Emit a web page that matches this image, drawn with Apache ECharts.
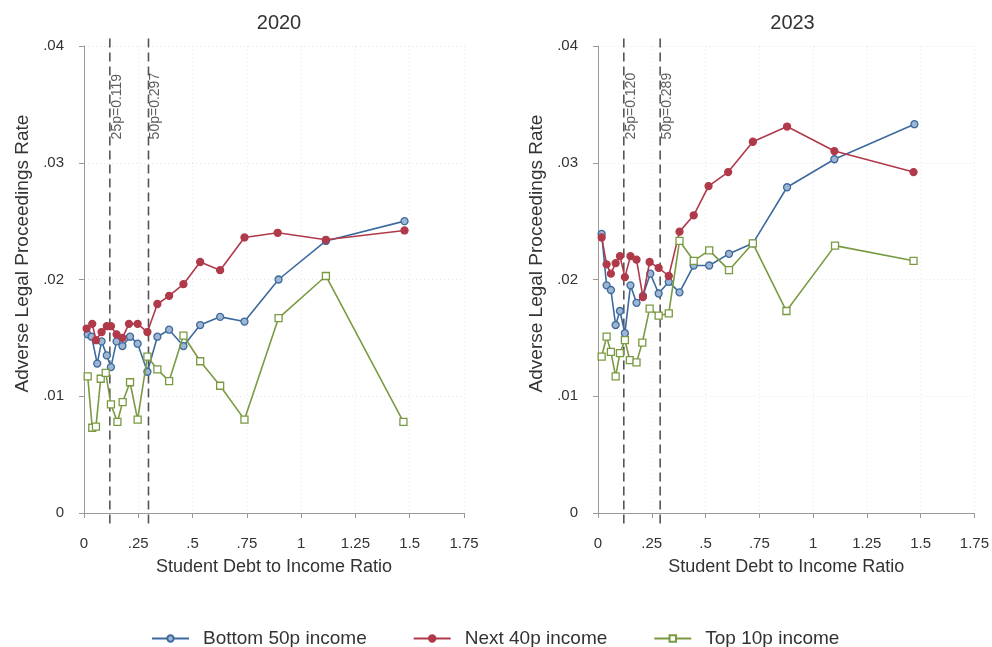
<!DOCTYPE html>
<html>
<head>
<meta charset="utf-8">
<title>Adverse Legal Proceedings Rate by Student Debt to Income Ratio</title>
<script src="https://cdn.jsdelivr.net/npm/echarts@6/dist/echarts.min.js"></script>
<style>
  html, body { margin: 0; padding: 0; background: #fff; }
  #chart { width: 992px; height: 647px; }
</style>
</head>
<body>
<div id="chart"></div>
<script>
// Panel titles and series names
const panelYears = ['2020', '2023'];
const seriesNames = ['Bottom 50p income', 'Next 40p income', 'Top 10p income'];
const xTicks = [0, 0.25, 0.5, 0.75, 1, 1.25, 1.5, 1.75];
const yTicks = [0, 0.01, 0.02, 0.03, 0.04];

// 2020 binned means: [debt-to-income ratio, adverse legal proceedings rate]
const bottom2020 = [
  [0.017, 0.0153], [0.035, 0.0151], [0.061, 0.0128], [0.081, 0.0147], [0.105, 0.0135],
  [0.124, 0.0125], [0.150, 0.0147], [0.177, 0.0143], [0.212, 0.0151], [0.247, 0.0145],
  [0.292, 0.0121], [0.338, 0.0151], [0.392, 0.0157], [0.458, 0.0143], [0.535, 0.0161],
  [0.627, 0.0168], [0.739, 0.0164], [0.896, 0.0200], [1.114, 0.0233], [1.476, 0.0250]
];
const next2020 = [
  [0.012, 0.0158], [0.038, 0.0162], [0.055, 0.0148], [0.081, 0.0155], [0.105, 0.0160],
  [0.124, 0.0160], [0.150, 0.0153], [0.177, 0.0150], [0.207, 0.0162], [0.247, 0.0162],
  [0.292, 0.0155], [0.338, 0.0179], [0.392, 0.0186], [0.458, 0.0196], [0.535, 0.0215],
  [0.627, 0.0208], [0.739, 0.0236], [0.892, 0.0240], [1.114, 0.0234], [1.476, 0.0242]
];
const top2020 = [
  [0.017, 0.0117], [0.038, 0.0073], [0.055, 0.0074], [0.077, 0.0115], [0.100, 0.0120],
  [0.124, 0.0093], [0.154, 0.0078], [0.178, 0.0095], [0.212, 0.0112], [0.247, 0.0080],
  [0.292, 0.0134], [0.338, 0.0123], [0.392, 0.0113], [0.458, 0.0152], [0.535, 0.0130],
  [0.627, 0.0109], [0.739, 0.0080], [0.896, 0.0167], [1.114, 0.0203], [1.471, 0.0078]
];

// 2023 binned means
const bottom2023 = [
  [0.017, 0.0239], [0.040, 0.0195], [0.060, 0.0191], [0.082, 0.0161], [0.102, 0.0173],
  [0.125, 0.0154], [0.151, 0.0195], [0.179, 0.0180], [0.209, 0.0186], [0.243, 0.0205],
  [0.282, 0.0188], [0.329, 0.0198], [0.379, 0.0189], [0.445, 0.0212], [0.517, 0.0212],
  [0.609, 0.0222], [0.720, 0.0231], [0.879, 0.0279], [1.099, 0.0303], [1.471, 0.0333]
];
const next2023 = [
  [0.017, 0.0236], [0.040, 0.0213], [0.060, 0.0205], [0.082, 0.0214], [0.102, 0.0220],
  [0.125, 0.0202], [0.151, 0.0220], [0.179, 0.0217], [0.209, 0.0185], [0.240, 0.0215],
  [0.282, 0.0210], [0.329, 0.0203], [0.379, 0.0241], [0.445, 0.0255], [0.514, 0.0280],
  [0.605, 0.0292], [0.720, 0.0318], [0.879, 0.0331], [1.099, 0.0310], [1.467, 0.0292]
];
const top2023 = [
  [0.017, 0.0134], [0.040, 0.0151], [0.060, 0.0138], [0.082, 0.0117], [0.102, 0.0137],
  [0.125, 0.0148], [0.148, 0.0131], [0.179, 0.0129], [0.206, 0.0146], [0.240, 0.0175],
  [0.282, 0.0169], [0.329, 0.0171], [0.379, 0.0233], [0.445, 0.0216], [0.517, 0.0225],
  [0.609, 0.0208], [0.720, 0.0231], [0.876, 0.0173], [1.102, 0.0229], [1.467, 0.0216]
];

// Percentile cut-offs of the debt-to-income ratio
const p25 = [0.119, 0.120];
const p50 = [0.297, 0.289];

const colors = ['#3d6a9e', '#b03a4a', '#7a9a42'];
const fontFamily = 'Liberation Sans, Arial, sans-serif';

function fmtTick(v) {
  if (v === 0) return '0';
  return String(+v.toFixed(2)).replace(/^0\./, '.');
}

const grids = [
  { left: 84, top: 46, width: 380, height: 467 },
  { left: 598, top: 46, width: 379, height: 467 }
];

function xAxisFor(i) {
  return {
    type: 'value', gridIndex: i, min: 0, max: 1.75, interval: 0.25, offset: 10,
    name: 'Student Debt to Income Ratio', nameLocation: 'middle', nameGap: 35,
    nameTextStyle: { fontSize: 18, color: '#333', fontFamily },
    axisLine: { show: true, lineStyle: { color: '#999', width: 1 } },
    axisTick: { show: true, length: 5, lineStyle: { color: '#999' } },
    axisLabel: { fontSize: 15, color: '#333', margin: 13, fontFamily, formatter: fmtTick },
    splitLine: { show: true, lineStyle: { color: '#e6e6e6', type: [1, 3] } }
  };
}

function yAxisFor(i) {
  return {
    type: 'value', gridIndex: i, min: 0, max: 0.04, interval: 0.01, offset: 12,
    name: 'Adverse Legal Proceedings Rate', nameLocation: 'middle', nameGap: 40,
    // extra leading padding lifts the rotated title above the axis midpoint
    nameTextStyle: { fontSize: 19, color: '#333', fontFamily, padding: [0, 0, 0, 52] },
    axisLine: { show: true, lineStyle: { color: '#999', width: 1 } },
    axisTick: { show: true, length: 5, lineStyle: { color: '#999' } },
    axisLabel: { fontSize: 15, color: '#333', margin: 8, fontFamily, formatter: fmtTick },
    splitLine: { show: true, lineStyle: { color: '#e6e6e6', type: [1, 3] } }
  };
}

function dataSeries(name, data, idx, panel) {
  const styles = [
    { symbol: 'circle', size: 7, fill: '#9fb6d2' },
    { symbol: 'circle', size: 7, fill: colors[1] },
    { symbol: 'rect', size: 7, fill: '#ffffff' }
  ][idx];
  return {
    type: 'line', name, data, xAxisIndex: panel, yAxisIndex: panel,
    symbol: styles.symbol, symbolSize: styles.size, showSymbol: true,
    color: colors[idx],
    lineStyle: { color: colors[idx], width: 1.6 },
    itemStyle: { color: styles.fill, borderColor: colors[idx], borderWidth: 1.3 },
    emphasis: { disabled: true }, animation: false, z: 3 + idx
  };
}

function cutLine(x, panel) {
  return {
    type: 'line', name: 'cut', xAxisIndex: panel, yAxisIndex: panel,
    data: [[x, -0.0009], [x, 0.0409]], clip: false, symbol: 'none',
    lineStyle: { color: '#555', width: 1.6, type: [9, 5] },
    silent: true, animation: false, z: 2
  };
}

function cutLabel(text, x, panel) {
  return {
    type: 'scatter', name: 'cutLabel', xAxisIndex: panel, yAxisIndex: panel,
    data: [[x, 0.0320]], symbolSize: 0, silent: true, animation: false, z: 2,
    label: {
      show: true, position: 'right', distance: 7, rotate: 90,
      formatter: text, fontSize: 14, color: '#333', fontFamily
    }
  };
}

const panelData = [
  [bottom2020, next2020, top2020],
  [bottom2023, next2023, top2023]
];

const series = [];
panelData.forEach((sets, p) => {
  series.push(cutLine(p25[p], p));
  series.push(cutLine(p50[p], p));
  series.push(cutLabel('25p=' + p25[p].toFixed(3), p25[p], p));
  series.push(cutLabel('50p=' + p50[p].toFixed(3), p50[p], p));
  sets.forEach((d, i) => series.push(dataSeries(seriesNames[i], d, i, p)));
});

const chart = echarts.init(document.getElementById('chart'), null, { renderer: 'canvas' });
chart.setOption({
  backgroundColor: '#ffffff',
  animation: false,
  textStyle: { fontFamily },
  title: panelYears.map((t, i) => ({
    text: t,
    left: grids[i].left + grids[i].width / 2,
    top: 8,
    textAlign: 'center',
    textStyle: { fontSize: 20, fontWeight: 'normal', color: '#333', fontFamily }
  })),
  legend: {
    data: seriesNames, top: 624, left: 146,
    itemWidth: 37, itemHeight: 8, itemGap: 46,
    textStyle: { fontSize: 19, color: '#333', fontFamily, padding: [0, 0, 0, 9] }
  },
  grid: grids,
  xAxis: [xAxisFor(0), xAxisFor(1)],
  yAxis: [yAxisFor(0), yAxisFor(1)],
  series
});
</script>
</body>
</html>
